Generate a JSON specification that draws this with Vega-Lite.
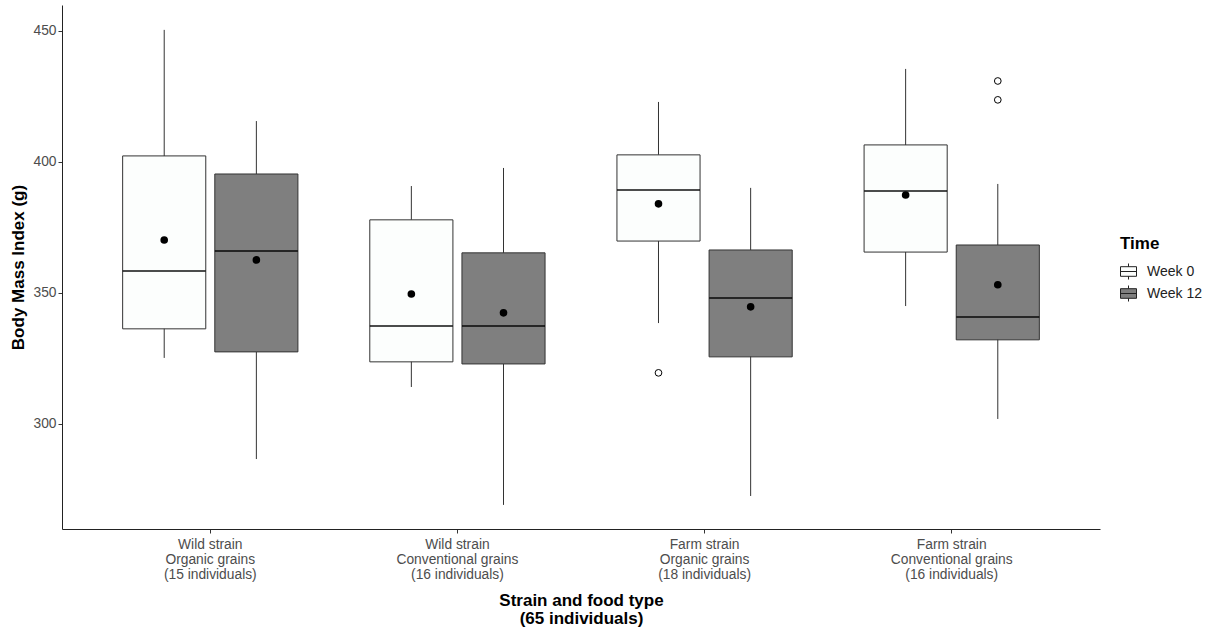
{
  "$schema": "https://vega.github.io/schema/vega-lite/v6.json",
  "width": 1038,
  "height": 524,
  "autosize": {"type": "none"},
  "padding": {"left": 62, "top": 5, "right": 113, "bottom": 101},
  "background": "white",
  "config": {
    "font": "Liberation Sans",
    "view": {"stroke": null},
    "axis": {"grid": false, "domainColor": "#222", "tickColor": "#333", "tickSize": 4, "labelColor": "#4D4D4D", "labelFontSize": 13.8, "titleFontSize": 17, "titleFontWeight": "bold", "titleColor": "#000"}
  },
  "datasets": {
    "stats": [
      {"group": "Wild strain|Organic grains|(15 individuals)", "time": "Week 0", "lo": 325.2, "q1": 336.3, "med": 358.4, "q3": 402.3, "hi": 450.4, "mean": 370.2},
      {"group": "Wild strain|Organic grains|(15 individuals)", "time": "Week 12", "lo": 286.6, "q1": 327.5, "med": 366.0, "q3": 395.4, "hi": 415.6, "mean": 362.6},
      {"group": "Wild strain|Conventional grains|(16 individuals)", "time": "Week 0", "lo": 314.1, "q1": 323.7, "med": 337.4, "q3": 377.9, "hi": 390.8, "mean": 349.6},
      {"group": "Wild strain|Conventional grains|(16 individuals)", "time": "Week 12", "lo": 269.1, "q1": 322.9, "med": 337.4, "q3": 365.3, "hi": 397.7, "mean": 342.4},
      {"group": "Farm strain|Organic grains|(18 individuals)", "time": "Week 0", "lo": 338.5, "q1": 369.8, "med": 389.3, "q3": 402.7, "hi": 422.9, "mean": 384.0},
      {"group": "Farm strain|Organic grains|(18 individuals)", "time": "Week 12", "lo": 272.5, "q1": 325.6, "med": 348.1, "q3": 366.4, "hi": 390.1, "mean": 344.7},
      {"group": "Farm strain|Conventional grains|(16 individuals)", "time": "Week 0", "lo": 345.0, "q1": 365.6, "med": 388.9, "q3": 406.5, "hi": 435.5, "mean": 387.4},
      {"group": "Farm strain|Conventional grains|(16 individuals)", "time": "Week 12", "lo": 301.9, "q1": 332.1, "med": 340.8, "q3": 368.3, "hi": 391.6, "mean": 353.1}
    ],
    "outliers": [
      {"group": "Farm strain|Organic grains|(18 individuals)", "time": "Week 0", "value": 319.5},
      {"group": "Farm strain|Conventional grains|(16 individuals)", "time": "Week 12", "value": 430.9},
      {"group": "Farm strain|Conventional grains|(16 individuals)", "time": "Week 12", "value": 423.7}
    ]
  },
  "encoding": {
    "x": {
      "field": "group", "type": "nominal", "sort": null,
      "scale": {"paddingInner": 0, "paddingOuter": 0.1},
      "axis": {"labelExpr": "split(datum.value, '|')", "labelAngle": 0, "labelLineHeight": 15, "labelPadding": 4, "title": ["Strain and food type", "(65 individuals)"], "titlePadding": 12, "titleLineHeight": 18}
    },
    "xOffset": {"field": "time", "type": "nominal", "sort": ["Week 0", "Week 12"], "scale": {"paddingInner": 0.098, "paddingOuter": 0.39}}
  },
  "layer": [
    {
      "data": {"name": "stats"},
      "mark": {"type": "rule", "color": "#333", "strokeWidth": 1},
      "encoding": {
        "y": {"field": "lo", "type": "quantitative", "scale": {"domain": [259.9, 459.9], "nice": false, "zero": false},
          "axis": {"values": [300, 350, 400, 450], "title": "Body Mass Index (g)", "titlePadding": 5}},
        "y2": {"field": "hi"}
      }
    },
    {
      "data": {"name": "stats"},
      "mark": {"type": "bar", "stroke": "#333", "strokeWidth": 1},
      "encoding": {
        "y": {"field": "q1", "type": "quantitative"},
        "y2": {"field": "q3"},
        "fill": {"field": "time", "type": "nominal", "sort": ["Week 0", "Week 12"],
          "scale": {"domain": ["Week 0", "Week 12"], "range": ["#FCFEFD", "#7F7F7F"]},
          "legend": {"title": "Time", "orient": "none", "legendX": 1058, "legendY": 231, "titleFontSize": 17, "titleFontWeight": "bold", "titleColor": "#000", "titlePadding": 10, "labelFontSize": 14, "labelColor": "#222", "labelOffset": 10,
            "symbolType": "M-1,-0.6H1V0.6H-1Z M0,-1V-0.6 M0,0.6V1 M-1,0H1", "symbolStrokeColor": "#222", "symbolStrokeWidth": 1, "symbolSize": 256, "rowPadding": 1, "symbolOpacity": 1}}
      }
    },
    {
      "data": {"name": "stats"},
      "mark": {"type": "tick", "color": "#000", "thickness": 2, "size": 83},
      "encoding": {"y": {"field": "med", "type": "quantitative"}}
    },
    {
      "data": {"name": "stats"},
      "mark": {"type": "point", "filled": true, "color": "#000", "size": 58, "opacity": 1},
      "encoding": {"y": {"field": "mean", "type": "quantitative"}}
    },
    {
      "data": {"name": "outliers"},
      "mark": {"type": "point", "filled": false, "fill": "white", "stroke": "#000", "strokeWidth": 1, "size": 45, "opacity": 1},
      "encoding": {"y": {"field": "value", "type": "quantitative"}}
    }
  ]
}
